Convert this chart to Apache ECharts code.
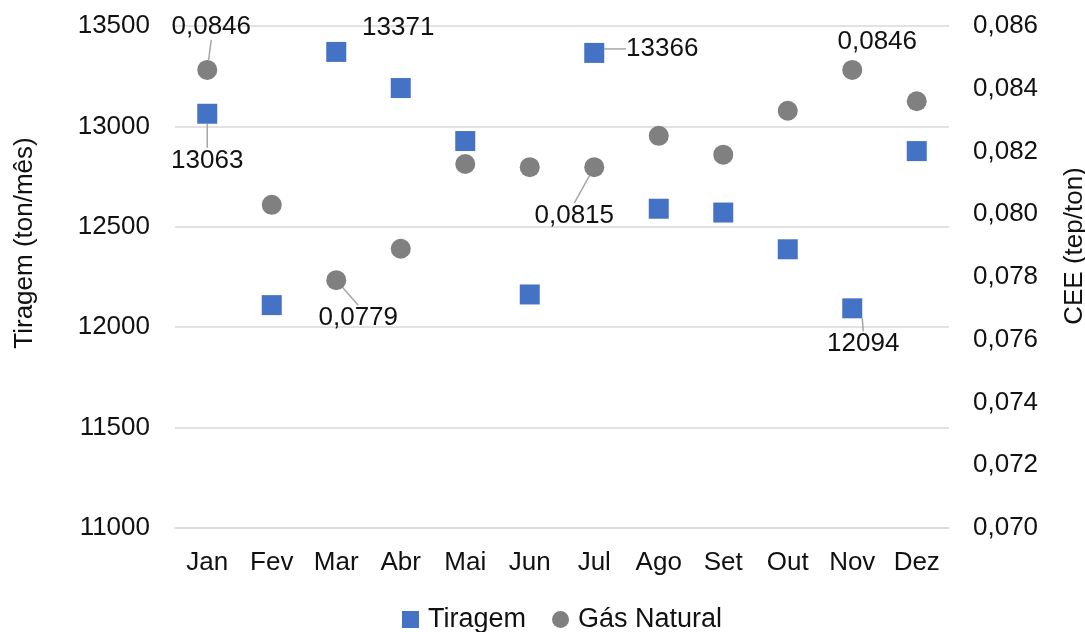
<!DOCTYPE html>
<html style="height: 100%">
    <head>
        <meta charset="utf-8">
    </head>
    <body style="height: 100%; margin: 0; background: #fff; overflow: hidden">
        <div id="container" style="width: 1085px; height: 632px"></div>

    <script src="https://cdn.jsdelivr.net/npm/echarts@6/dist/echarts.min.js"></script>
        <script type="text/javascript">
// data
var months = ['Jan', 'Fev', 'Mar', 'Abr', 'Mai', 'Jun', 'Jul', 'Ago', 'Set', 'Out', 'Nov', 'Dez'];
var tiragem = [13063, 12110, 13371, 13191, 12927, 12163, 13366, 12590, 12571, 12388, 12094, 12877];
var gasNatural = [0.0846, 0.0803, 0.0779, 0.0789, 0.0816, 0.0815, 0.0815, 0.0825, 0.0819, 0.0833, 0.0846, 0.0836];
var tiragemLabeled = [0, 2, 6, 10];
var gasLabeled = [0, 2, 6, 10];

// where each data label sits relative to its marker (dx, dy, leader line)
var tiragemLabelPos = {0: [0, 47, true], 2: [62, -24, false], 6: [68, -4, true], 10: [11, 36, true]};
var gasLabelPos = {0: [4, -43, true], 2: [22, 38, true], 6: [-20, 49, true], 10: [25, -28, false]};

var font = 'Arial, "Liberation Sans", sans-serif';
var textColor = '#111';

var dom = document.getElementById("container");
var myChart = echarts.init(dom);
var option;

function comma(v, d) {
    return v.toFixed(d).replace('.', ',');
}

function buildData(values, labeled, pos) {
    return values.map(function (v, i) {
        var item = { value: v };
        if (labeled.indexOf(i) >= 0) {
            item.label = { show: true };
            item.labelLine = { show: pos[i][2] };
        }
        return item;
    });
}

function layoutFor(pos) {
    return function (params) {
        var p = pos[params.dataIndex];
        if (!p) return {};
        return { dx: p[0], dy: p[1] };
    };
}

var labelStyle = {
    position: 'inside',
    fontSize: 26,
    fontFamily: font,
    color: textColor
};

option = {
    animation: false,
    textStyle: { fontFamily: font },
    grid: {
        left: 175,
        right: 136,
        top: 26,
        bottom: 104,
        outerBoundsMode: 'none',
        containLabel: false
    },
    legend: {
        top: 601,
        left: 397,
        itemWidth: 17,
        itemHeight: 17,
        itemGap: 26,
        textStyle: { fontSize: 27, color: textColor, fontFamily: font, padding: [0, 0, 0, 4] },
        data: ['Tiragem', 'Gás Natural']
    },
    xAxis: {
        type: 'category',
        data: months,
        boundaryGap: true,
        axisLine: { lineStyle: { color: '#D9D9D9', width: 1.5 } },
        axisTick: { show: false },
        axisLabel: { fontSize: 26, color: textColor, margin: 22 }
    },
    yAxis: [
        {
            type: 'value',
            min: 11000,
            max: 13500,
            interval: 500,
            name: 'Tiragem (ton/mês)',
            nameLocation: 'middle',
            nameRotate: 90,
            nameGap: 137,
            nameTextStyle: { fontSize: 26, color: textColor, padding: [0, 0, 0, 68] },
            axisLine: { show: false },
            axisTick: { show: false },
            axisLabel: {
                fontSize: 26,
                color: textColor,
                margin: 25,
                formatter: function (v) { return String(v); }
            },
            splitLine: { lineStyle: { color: '#D9D9D9', width: 1.5 } }
        },
        {
            type: 'value',
            min: 0.07,
            max: 0.086,
            interval: 0.002,
            name: 'CEE (tep/ton)',
            nameLocation: 'middle',
            nameRotate: 90,
            nameGap: 113,
            nameTextStyle: { fontSize: 26, color: textColor, padding: [0, 0, 0, 62] },
            axisLine: { show: false },
            axisTick: { show: false },
            axisLabel: {
                fontSize: 26,
                color: textColor,
                margin: 24,
                formatter: function (v) { return comma(v, 3); }
            },
            splitLine: { show: false }
        }
    ],
    series: [
        {
            name: 'Tiragem',
            type: 'scatter',
            yAxisIndex: 0,
            symbol: 'rect',
            symbolSize: 20,
            itemStyle: { color: '#4472C4', opacity: 1 },
            data: buildData(tiragem, tiragemLabeled, tiragemLabelPos),
            label: Object.assign({
                formatter: function (p) { return String(p.value); }
            }, labelStyle),
            labelLine: { show: true, lineStyle: { color: '#A6A6A6', width: 1.5 } },
            labelLayout: layoutFor(tiragemLabelPos)
        },
        {
            name: 'Gás Natural',
            type: 'scatter',
            yAxisIndex: 1,
            symbol: 'circle',
            symbolSize: 20,
            itemStyle: { color: '#808080', opacity: 1 },
            data: buildData(gasNatural, gasLabeled, gasLabelPos),
            label: Object.assign({
                formatter: function (p) { return comma(p.value, 4); }
            }, labelStyle),
            labelLine: { show: true, lineStyle: { color: '#A6A6A6', width: 1.5 } },
            labelLayout: layoutFor(gasLabelPos)
        }
    ]
};

if (option && typeof option === 'object') {
    myChart.setOption(option);
}
        </script>
    </body>
</html>
